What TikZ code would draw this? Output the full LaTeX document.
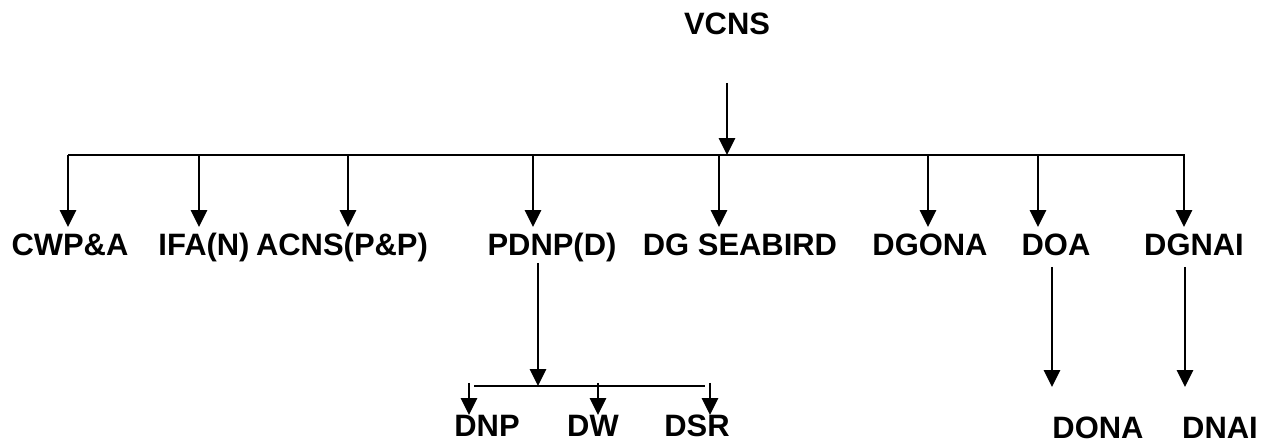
\documentclass[tikz,border=0pt]{standalone}
\usepackage{fontspec}
\setmainfont{Liberation Sans}
\usetikzlibrary{arrows.meta}
\tikzset{
  lbl/.style={font=\fontsize{22}{26}\selectfont\bfseries,inner sep=0pt,anchor=base},
  arr/.style={line width=1.6pt,-{Triangle[width=11.5pt,length=12pt]}},
  bar/.style={line width=1.6pt},
}

\begin{document}
\begin{tikzpicture}[x=0.025cm,y=-0.025cm]
  \useasboundingbox (0,0) rectangle (1264,444);
  % head
  \node[lbl] (vcns) at (727,35) {VCNS};
  \coordinate (vcns-out) at (727,83);
  \coordinate (vcns-bar) at (727,155);
  \draw[arr] (vcns-out) -- (vcns-bar);
  \coordinate (barl) at (68,155);
  \coordinate (barr) at (1185,155);
  \draw[bar] (barl) -- (barr);
  % first row
  \foreach \n/\bx/\tx/\txt in {cwpa/68/70/CWP\&A, ifan/199/204/IFA(N),
      acns/348/342/ACNS(P\&P), pdnp/533/552/PDNP(D), seabird/719/740/DG SEABIRD,
      dgona/928/930/DGONA, doa/1038/1056/DOA, dgnai/1184/1194/DGNAI} {
    \node[lbl] (\n) at (\tx,256) {\txt};
    \coordinate (\n-in) at (\bx,155);
    \coordinate (\n-tip) at (\bx,227);
    \draw[arr] (\n-in) -- (\n-tip);
  }
  % under PDNP(D)
  \coordinate (pdnp-out) at (538,263);
  \coordinate (pdnp-bar) at (538,386);
  \draw[arr] (pdnp-out) -- (pdnp-bar);
  \coordinate (subl) at (474,386);
  \coordinate (subr) at (705,386);
  \draw[bar] (subl) -- (subr);
  \foreach \n/\bx/\tx/\txt in {dnp/469/487/DNP, dw/598/593/DW, dsr/710/697/DSR} {
    \node[lbl] (\n) at (\tx,437) {\txt};
    \coordinate (\n-in) at (\bx,383);
    \coordinate (\n-tip) at (\bx,415);
    \draw[arr] (\n-in) -- (\n-tip);
  }
  % under DOA and DGNAI
  \node[lbl] (dona) at (1098,439) {DONA};
  \node[lbl] (dnai) at (1220,439) {DNAI};
  \coordinate (doa-out) at (1052,267);
  \coordinate (doa-tip) at (1052,387);
  \draw[arr] (doa-out) -- (doa-tip);
  \coordinate (dgnai-out) at (1185,267);
  \coordinate (dgnai-tip) at (1185,387);
  \draw[arr] (dgnai-out) -- (dgnai-tip);
\end{tikzpicture}
\end{document}
